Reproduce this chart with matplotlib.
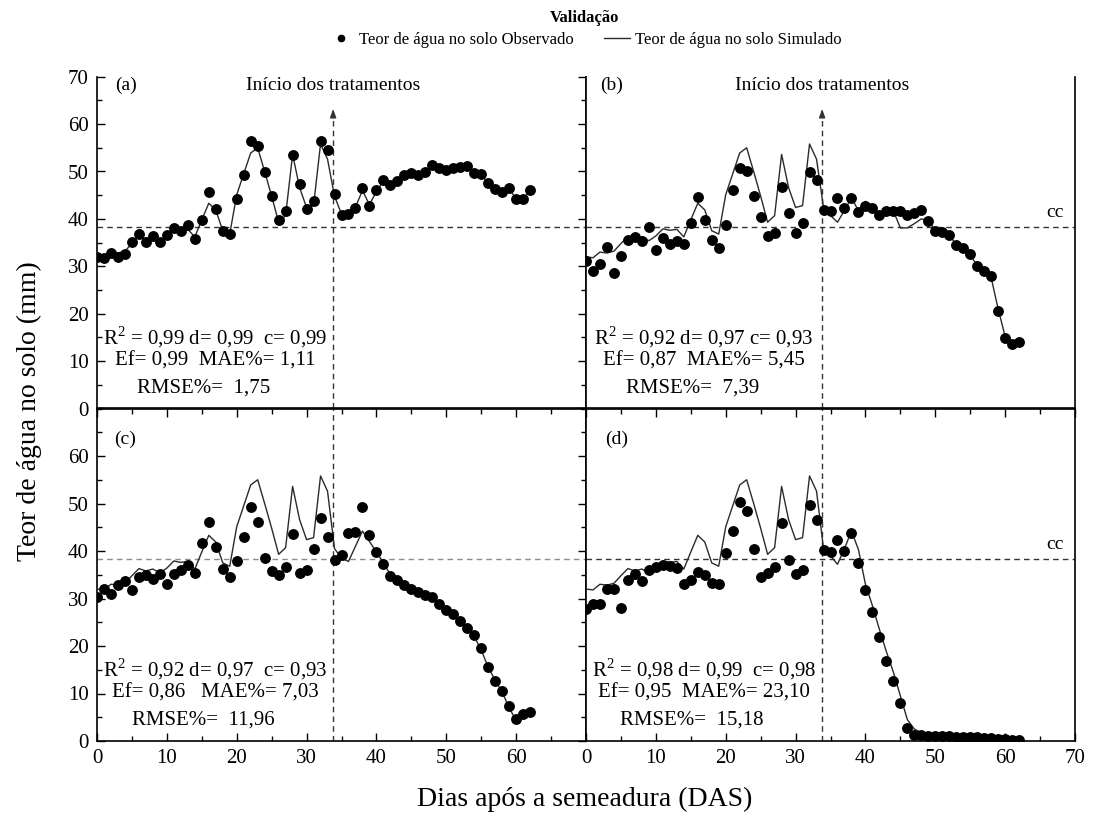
import numpy as np
import matplotlib
matplotlib.use("Agg")
import matplotlib.pyplot as plt
from matplotlib.ticker import MultipleLocator
from matplotlib.lines import Line2D

plt.rcParams['font.family'] = 'Liberation Serif'
plt.rcParams['mathtext.fontset'] = 'custom'
plt.rcParams['mathtext.rm'] = 'Liberation Serif'

# dias apos a semeadura
das = np.arange(0, 63)

# teor de agua observado (mm)
obs_a = [32.0, 31.8, 32.8, 31.9, 32.7, 35.2, 36.9, 35.1, 36.3, 35.2,
         36.5, 38.1, 37.5, 38.8, 35.7, 39.7, 45.6, 42.0, 37.5, 36.8,
         44.3, 49.3, 56.5, 55.3, 49.8, 44.9, 39.7, 41.7, 53.4, 47.4,
         42.0, 43.7, 56.5, 54.6, 45.2, 40.8, 41.0, 42.3, 46.6, 42.8,
         46.0, 48.2, 47.2, 48.0, 49.2, 49.6, 49.2, 49.9, 51.3, 50.7,
         50.3, 50.7, 51.0, 51.2, 49.6, 49.5, 47.5, 46.4, 45.6, 46.6,
         44.1, 44.1, 46.1]
obs_b = [31.1, 29.0, 30.5, 34.0, 28.6, 32.1, 35.6, 36.1, 35.3, 38.2,
         33.5, 35.9, 34.7, 35.4, 34.6, 39.1, 44.7, 39.7, 35.6, 33.9,
         38.8, 46.1, 50.7, 50.1, 44.9, 40.4, 36.3, 37.0, 46.8, 41.2,
         37.1, 39.2, 49.9, 48.2, 41.9, 41.7, 44.5, 42.3, 44.5, 41.4,
         42.8, 42.2, 40.8, 41.7, 41.7, 41.7, 40.8, 41.2, 41.9, 39.6,
         37.5, 37.2, 36.7, 34.5, 33.8, 32.5, 30.0, 29.1, 27.9, 20.6,
         14.9, 13.6, 14.0]
obs_c = [30.3, 32.1, 31.0, 32.8, 33.6, 31.7, 34.5, 35.0, 34.2, 35.2,
         33.1, 35.2, 36.1, 37.0, 35.4, 41.6, 46.1, 40.9, 36.3, 34.6,
         37.8, 43.0, 49.2, 46.1, 38.5, 35.7, 35.0, 36.7, 43.5, 35.4,
         35.9, 40.4, 47.0, 43.0, 38.1, 39.1, 43.8, 44.1, 49.2, 43.3,
         39.8, 37.2, 34.7, 34.0, 32.8, 32.0, 31.4, 30.7, 30.4, 28.9,
         27.5, 26.7, 25.2, 23.8, 22.4, 19.5, 15.5, 12.7, 10.5, 7.4,
         4.6, 5.7, 6.1]
obs_d = [27.8, 28.9, 28.9, 32.1, 32.1, 28.0, 34.0, 35.2, 33.7, 35.9,
         36.6, 37.0, 36.9, 36.5, 33.0, 33.8, 35.6, 35.0, 33.3, 33.0,
         39.6, 44.3, 50.4, 48.5, 40.4, 34.5, 35.4, 36.7, 46.0, 38.2,
         35.2, 35.9, 49.6, 46.6, 40.3, 39.8, 42.3, 40.1, 43.8, 37.5,
         31.7, 27.1, 21.8, 16.9, 12.7, 8.0, 2.8, 1.3, 1.2, 1.1,
         1.1, 1.0, 1.0, 0.9, 0.9, 0.9, 0.8, 0.7, 0.6, 0.5,
         0.4, 0.3, 0.2]

# simulado: antes do inicio dos tratamentos (dias 0-33) igual nos quatro
sim_pre = [32.0, 31.8, 33.0, 32.8, 33.2, 34.8, 36.3, 35.8, 36.2, 35.4,
           36.4, 37.9, 37.6, 37.8, 36.2, 39.8, 43.3, 41.9, 37.5, 36.8,
           45.1, 49.5, 53.9, 55.0, 50.0, 44.8, 39.3, 40.7, 53.6, 46.6,
           42.4, 42.8, 55.8, 52.6]
# simulado: dias 34-62
sim_a_post = [44.8, 41.0, 41.2, 42.5, 46.0, 43.0, 45.8, 48.0, 47.3, 48.2,
              49.0, 49.5, 49.3, 49.8, 51.0, 50.6, 50.3, 50.6, 51.0, 51.5,
              49.8, 49.4, 47.5, 46.5, 45.6, 46.4, 44.2, 44.2, 45.9]
sim_b_post = [42.4, 40.7, 39.3, 41.8, 44.5, 41.7, 43.7, 42.8, 41.0, 41.7,
              41.7, 38.1, 38.1, 39.0, 40.0, 39.7, 37.6, 37.0, 36.5, 34.6,
              33.6, 32.3, 30.2, 29.0, 27.6, 21.0, 15.2, 13.8, 14.0]
sim_c_post = [40.5, 38.5, 37.8, 41.0, 44.2, 42.0, 39.8, 37.5, 35.0, 33.8,
              32.9, 32.1, 31.5, 30.8, 30.2, 28.8, 27.3, 26.5, 25.0, 23.6,
              22.0, 19.2, 15.5, 12.8, 10.3, 7.0, 4.3, 5.6, 6.0]
sim_d_post = [40.5, 39.0, 37.2, 40.5, 44.2, 40.3, 33.0, 28.5, 23.5, 18.8,
              14.5, 9.5, 4.5, 2.5, 1.8, 1.5, 1.3, 1.2, 1.1, 1.0,
              1.0, 0.9, 0.9, 0.8, 0.7, 0.6, 0.5, 0.4, 0.3]

tags = ["(a)", "(b)", "(c)", "(d)"]
stats = [
    ["R$^2$ = 0,99 d= 0,99  c= 0,99", "Ef= 0,99  MAE%= 1,11", "RMSE%=  1,75"],
    ["R$^2$ = 0,92 d= 0,97 c= 0,93", "Ef= 0,87  MAE%= 5,45", "RMSE%=  7,39"],
    ["R$^2$ = 0,92 d= 0,97  c= 0,93", "Ef= 0,86   MAE%= 7,03", "RMSE%=  11,96"],
    ["R$^2$ = 0,98 d= 0,99  c= 0,98", "Ef= 0,95  MAE%= 23,10", "RMSE%=  15,18"],
]
cc = 38.3          # capacidade de campo
inicio = 33.8      # inicio dos tratamentos (DAS)

W, H = 1097, 822
fig = plt.figure(figsize=(W / 100, H / 100), dpi=100)
xl, xr, pw = 97 / W, 586 / W, 489 / W
ytop, ymid, ybot = 1 - 76.7 / H, 1 - 408.5 / H, 1 - 741 / H
ax_a = fig.add_axes([xl, ymid, pw, ytop - ymid])
ax_b = fig.add_axes([xr, ymid, pw, ytop - ymid])
ax_c = fig.add_axes([xl, ybot, pw, ymid - ybot])
ax_d = fig.add_axes([xr, ybot, pw, ymid - ybot])
axes = [ax_a, ax_b, ax_c, ax_d]

obs_all = [obs_a, obs_b, obs_c, obs_d]
sim_all = [sim_pre + sim_a_post, sim_pre + sim_b_post,
           sim_pre + sim_c_post, sim_pre + sim_d_post]

for i, ax in enumerate(axes):
    top = i < 2
    left = i % 2 == 0
    ax.plot(das, sim_all[i], color='#2b2b2b', lw=1.0, zorder=3)
    ax.plot(das, obs_all[i], 'o', color='black', ms=6.8, zorder=4)
    ax.axhline(cc, ls=(0, (4, 3)), color='0.55' if i == 2 else '#333333', lw=1.0, zorder=2)
    ax.set_xlim(0, 70)
    ax.set_ylim(0, 70)

    if top:
        ax.plot([inicio, inicio], [0, 62], ls=(0, (4, 3)), color='#333333', lw=1.0, zorder=2)
        ax.annotate('', xy=(inicio, 63.8), xytext=(inicio, 61.5),
                    arrowprops=dict(arrowstyle='-|>,head_length=0.5,head_width=0.18',
                                    color='#333333', lw=1.0))
        ax.text(inicio, 68.2, "Início dos tratamentos", ha='center', va='center', fontsize=14)
        ax.text(2.6 if left else 2.0, 68.2, tags[i], ha='left', va='center', fontsize=14)
    else:
        ax.axvline(inicio, ls=(0, (4, 3)), color='#333333', lw=1.0, zorder=2)
        ax.text(2.4 if left else 2.8, 63.5, tags[i], ha='left', va='center', fontsize=14)

    if not left:
        ax.text(67.2, 41.3, "cc", ha='center', va='center', fontsize=14)

    ax.text(16.9, 15.1, stats[i][0], ha='center', va='center', fontsize=15)
    ax.text(16.9, 10.0, stats[i][1], ha='center', va='center', fontsize=15)
    ax.text(15.2, 4.4, stats[i][2], ha='center', va='center', fontsize=15)

    ax.xaxis.set_major_locator(MultipleLocator(10))
    ax.xaxis.set_minor_locator(MultipleLocator(5))
    ax.yaxis.set_major_locator(MultipleLocator(10))
    ax.yaxis.set_minor_locator(MultipleLocator(5))
    for s in ax.spines.values():
        s.set_linewidth(1.2)
    if top:
        ax.spines['top'].set_visible(False)

    ax.tick_params(which='both', direction='in', width=1.0,
                   left=left, right=left, top=not top, bottom=not top,
                   labelleft=left, labelbottom=not top, labelsize=15, pad=6)
    ax.tick_params(which='major', length=6)
    ax.tick_params(which='minor', length=3.5)
    if not top:
        ax.set_yticks([0, 10, 20, 30, 40, 50, 60])
        if left:
            ax.set_xticks([0, 10, 20, 30, 40, 50, 60])

fig.text(0.027, 0.5, "Teor de água no solo (mm)", rotation=90, ha='center', va='center', fontsize=20)
fig.text(0.533, 0.027, "Dias após a semeadura (DAS)", ha='center', va='center', fontsize=20)
fig.text(0.533, 1 - 18 / H, "Validação", ha='center', va='center', fontsize=12, weight='bold')

handles = [Line2D([], [], ls='none', marker='o', color='black', ms=4.5),
           Line2D([], [], color='#2b2b2b', lw=1.0)]
fig.legend(handles, ["Teor de água no solo Observado", "Teor de água no solo Simulado"],
           loc='center', bbox_to_anchor=(0.533, 1 - 40 / H), ncol=2, frameon=False,
           fontsize=12, handlelength=1.6, handletextpad=0.3, columnspacing=1.8)

fig.savefig("out.png", dpi=100)
